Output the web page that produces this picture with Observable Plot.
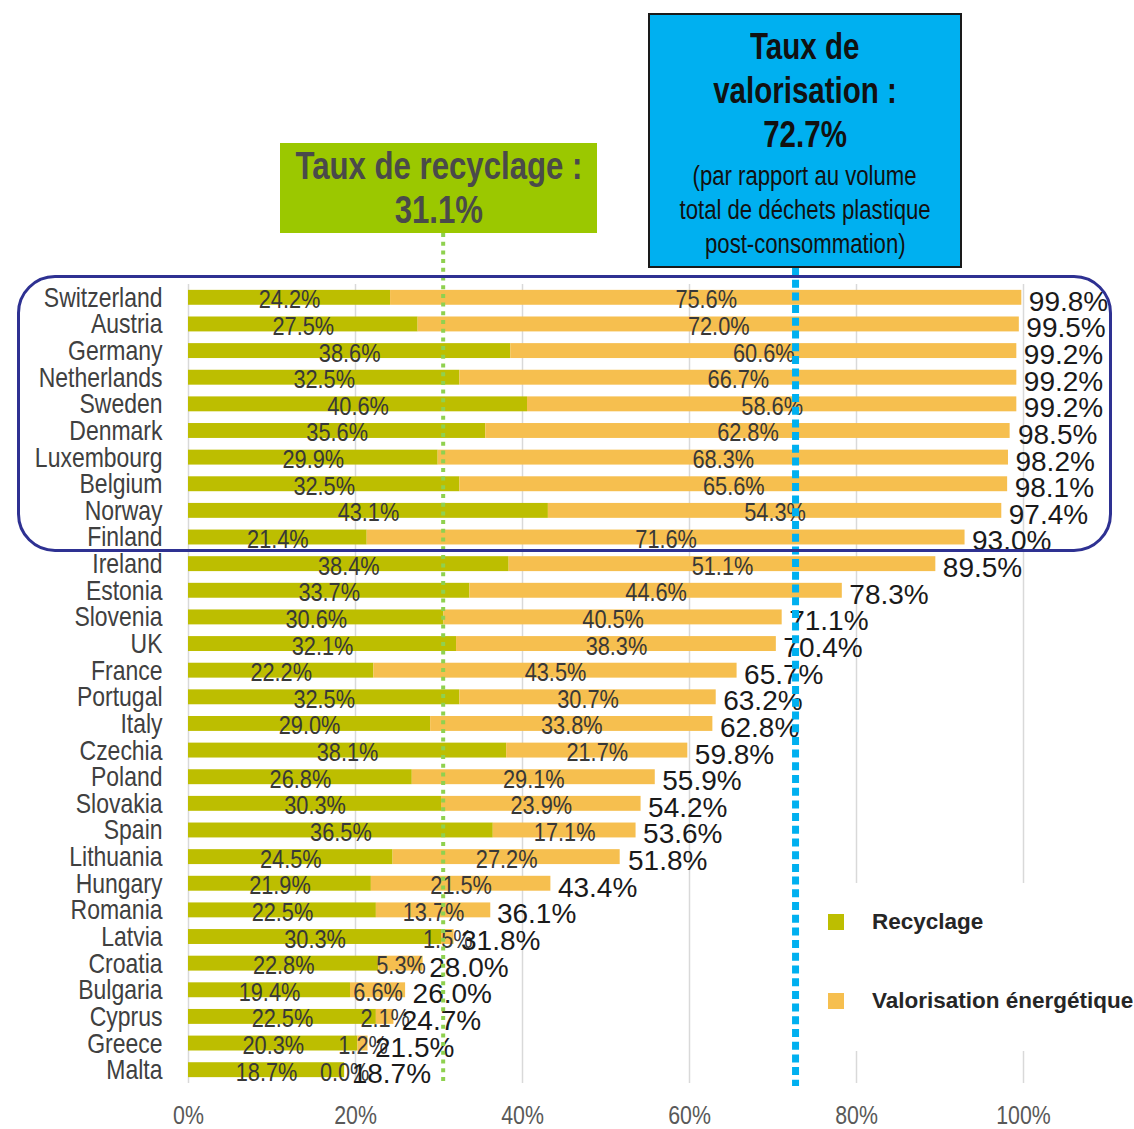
<!DOCTYPE html>
<html>
<head>
<meta charset="utf-8">
<script src="https://cdn.jsdelivr.net/npm/d3@7"></script>
<script src="https://cdn.jsdelivr.net/npm/@observablehq/plot@0.6"></script>
<style>
  body { margin: 0; background: #fff; }
  #wrap { position: relative; width: 1134px; height: 1129px; overflow: hidden; background: #fff; }
  #wrap svg { position: absolute; left: 0; top: 0; }
  .box { position: absolute; box-sizing: border-box; font-family: 'Liberation Sans', Arial, sans-serif; }
  .line { display: flex; justify-content: center; white-space: nowrap; }
  .line span { display: inline-block; transform: scaleX(0.82); transform-origin: center; }
  #recBox { left: 280px; top: 143px; width: 317px; height: 90px; background: #9bc800; color: #4a4a4a;
            font-weight: bold; font-size: 38px; line-height: 44px; padding-top: 1px; }
  #valBox { left: 648px; top: 13px; width: 314px; height: 255px; background: #00b0f0; color: #111;
            border: 2px solid #1a1a1a; padding-top: 10px; }
  #valBox .big { font-weight: bold; font-size: 36px; line-height: 44px; }
  #valBox .small { font-size: 27px; line-height: 34px; }
  #valBox .gap { height: 2px; }
  #frameTop { position: absolute; left: 17px; top: 275px; width: 1095px; height: 277px; box-sizing: border-box;
              border: 3px solid #2e3192; border-radius: 38px; }
  #legend { position: absolute; left: 815px; top: 883px; width: 319px; height: 168px; background: #fff;
            font-family: 'Liberation Sans', Arial, sans-serif; font-weight: bold; font-size: 22.5px; color: #262626; }
  .lg { position: absolute; left: 13px; display: flex; align-items: center; white-space: nowrap; }
  .lg .sw { width: 16px; height: 16px; margin-right: 28px; }
</style>
</head>
<body>
<div id="wrap"></div>
<script>
const countries = ["Switzerland","Austria","Germany","Netherlands","Sweden","Denmark","Luxembourg","Belgium","Norway","Finland",
  "Ireland","Estonia","Slovenia","UK","France","Portugal","Italy","Czechia","Poland","Slovakia",
  "Spain","Lithuania","Hungary","Romania","Latvia","Croatia","Bulgaria","Cyprus","Greece","Malta"];
const recycling = [24.2,27.5,38.6,32.5,40.6,35.6,29.9,32.5,43.1,21.4,
  38.4,33.7,30.6,32.1,22.2,32.5,29.0,38.1,26.8,30.3,
  36.5,24.5,21.9,22.5,30.3,22.8,19.4,22.5,20.3,18.7];
const energyRecovery = [75.6,72.0,60.6,66.7,58.6,62.8,68.3,65.6,54.3,71.6,
  51.1,44.6,40.5,38.3,43.5,30.7,33.8,21.7,29.1,23.9,
  17.1,27.2,21.5,13.7,1.5,5.3,6.6,2.1,1.2,0.0];
const totals = [99.8,99.5,99.2,99.2,99.2,98.5,98.2,98.1,97.4,93.0,
  89.5,78.3,71.1,70.4,65.7,63.2,62.8,59.8,55.9,54.2,
  53.6,51.8,43.4,36.1,31.8,28.0,26.0,24.7,21.5,18.7];
const series = ["Recyclage","Valorisation énergétique"];
const seriesColors = ["#bdbe00","#f6bf4f"];
const xTicks = [0,20,40,60,80,100];
const recyclingRateText = "31.1%";
const recyclingRuleAt = 30.5;   // where the dotted line sits in the picture
const recoveryRate = 72.7;

// "narrow" texts are Liberation Sans squeezed horizontally (no Arial Narrow available)
const narrowFam = "Liberation Sans, Arial, sans-serif";
const regularFam = "Arial, Liberation Sans, sans-serif";
const squeeze = 0.82;

const rows = [];
countries.forEach((c, i) => {
  rows.push({country: c, series: series[0], value: recycling[i]});
  rows.push({country: c, series: series[1], value: energyRecovery[i]});
});
const totalRows = countries.map((c, i) => ({country: c, total: totals[i]}));

const chart = Plot.plot({
  width: 1134,
  height: 1129,
  marginLeft: 188,
  marginRight: 111,
  marginTop: 284,
  marginBottom: 46,
  style: {fontFamily: narrowFam, color: "#404040", background: "transparent"},
  x: {domain: [0, 100]},
  y: {domain: countries, paddingInner: 0.44, paddingOuter: 0.22, round: false},
  color: {domain: series, range: seriesColors},
  marks: [
    Plot.gridX(xTicks, {stroke: "#d9d9d9", strokeOpacity: 1, strokeWidth: 1.5}),
    Plot.barX(rows, {x: "value", y: "country", fill: "series"}),
    Plot.text(rows, Plot.stackX({x: "value", y: "country", text: d => d.value.toFixed(1) + "%",
      fontSize: 26.5, fontFamily: narrowFam, fill: "#383838", dy: 2})),
    Plot.text(totalRows, {x: "total", y: "country", text: d => d.total.toFixed(1) + "%",
      textAnchor: "start", dx: 7, dy: 4, fontSize: 28, fontFamily: regularFam, fill: "#1a1a1a"}),
    Plot.ruleX([recyclingRuleAt], {stroke: "#8fd14f", strokeWidth: 4, strokeDasharray: "4,4.7", insetTop: -51, insetBottom: -2}),
    Plot.ruleX([recoveryRate], {stroke: "#00b0f0", strokeWidth: 7, strokeDasharray: "8,4.7", insetTop: -17, insetBottom: -3}),
    Plot.axisY({tickSize: 0, tickPadding: 26, fontSize: 28, fontFamily: narrowFam, fill: "#404040", label: null}),
    Plot.axisX(xTicks, {tickSize: 0, tickPadding: 22, fontSize: 26, fontFamily: narrowFam, fill: "#595959",
      tickFormat: d => d + "%", label: null})
  ]
});

const wrap = document.getElementById("wrap");
wrap.appendChild(chart);

// squeeze the narrow texts
chart.querySelectorAll("text").forEach(t => {
  const fam = getComputedStyle(t).fontFamily;
  const iL = fam.indexOf("Liberation"), iA = fam.indexOf("Arial");
  if (iL >= 0 && (iA < 0 || iL < iA)) {
    const len = t.getComputedTextLength();
    if (len > 0) {
      t.setAttribute("textLength", (len * squeeze).toFixed(2));
      t.setAttribute("lengthAdjust", "spacingAndGlyphs");
    }
  }
});

const frame = document.createElement("div");
frame.id = "frameTop";
wrap.appendChild(frame);

const line = (cls, txt) => "<div class='line " + cls + "'><span>" + txt + "</span></div>";

const rec = document.createElement("div");
rec.id = "recBox"; rec.className = "box";
rec.innerHTML = line("", "Taux de recyclage :") + line("", recyclingRateText);
wrap.appendChild(rec);

const val = document.createElement("div");
val.id = "valBox"; val.className = "box";
val.innerHTML = line("big", "Taux de") + line("big", "valorisation :") + line("big", recoveryRate.toFixed(1) + "%") +
  "<div class='gap'></div>" +
  line("small", "(par rapport au volume") + line("small", "total de déchets plastique") + line("small", "post-consommation)");
wrap.appendChild(val);

const legend = document.createElement("div");
legend.id = "legend";
series.forEach((s, i) => {
  const item = document.createElement("div");
  item.className = "lg";
  item.style.top = (i === 0 ? 26 : 105) + "px";
  item.innerHTML = "<div class='sw' style='background:" + seriesColors[i] + "'></div><span>" + s + "</span>";
  legend.appendChild(item);
});
wrap.appendChild(legend);
</script>
</body>
</html>
